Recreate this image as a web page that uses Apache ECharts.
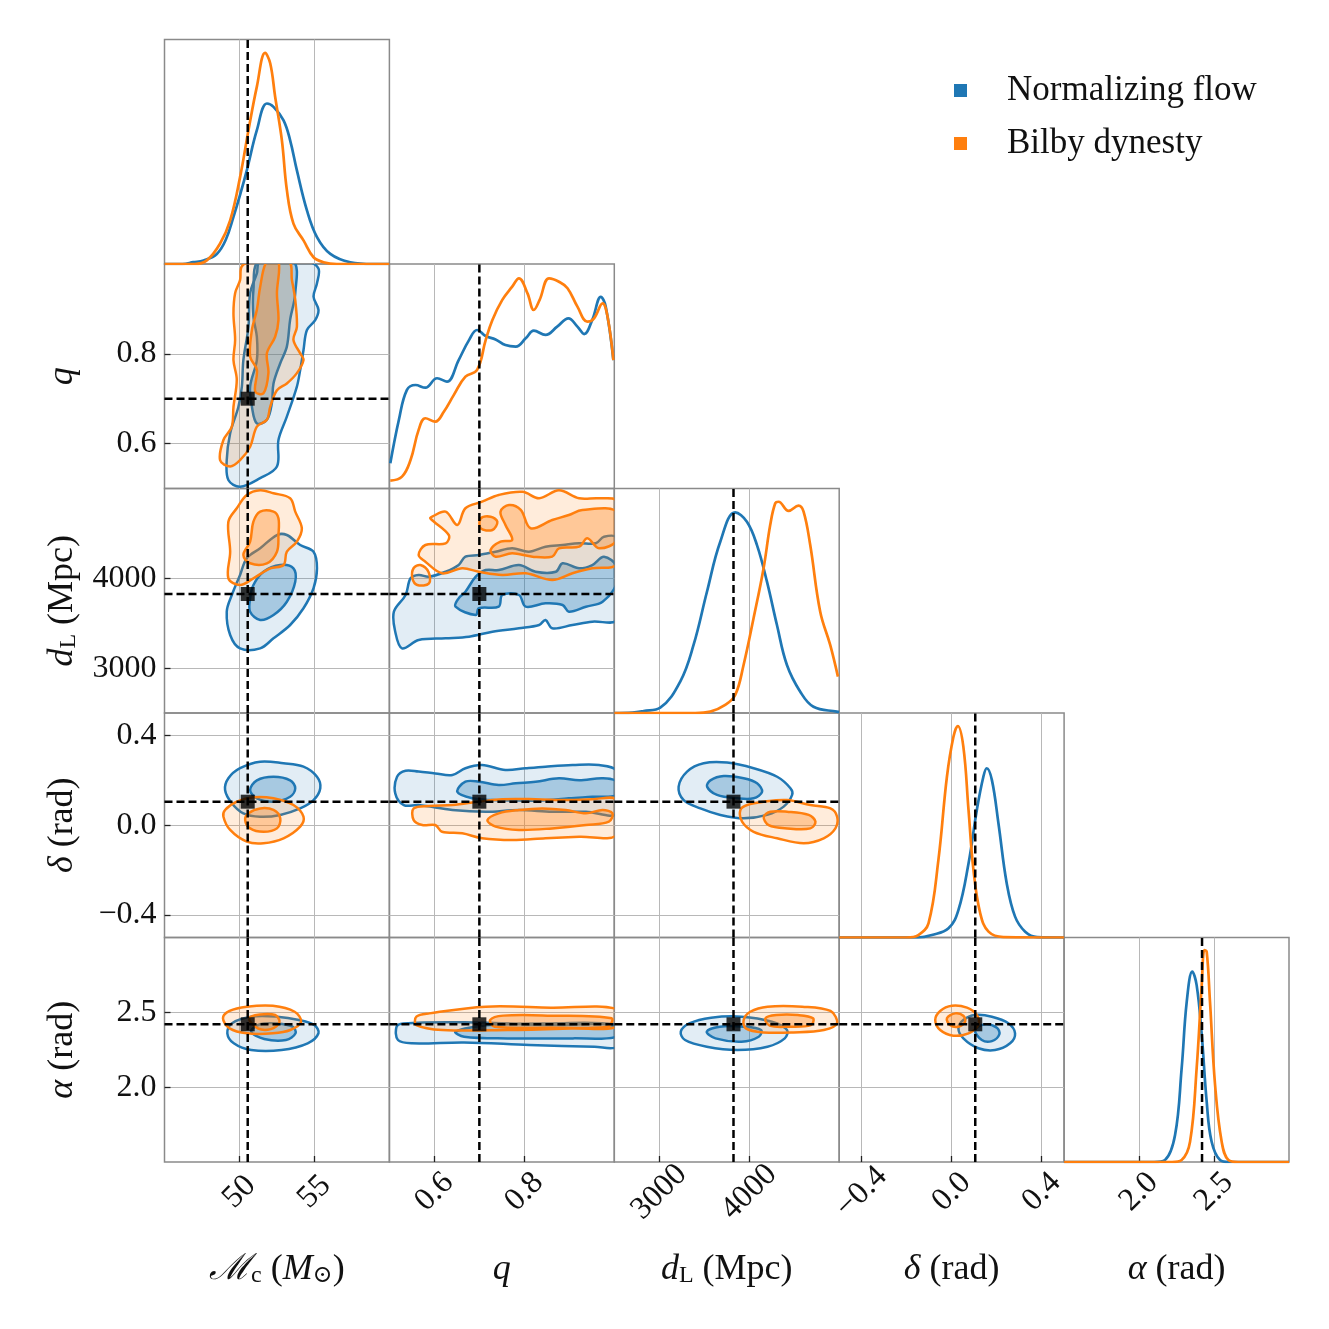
<!DOCTYPE html>
<html>
<head>
<meta charset="utf-8">
<script src="https://cdn.jsdelivr.net/npm/echarts@6/dist/echarts.min.js"></script>
<style>
  html, body { margin: 0; padding: 0; background: #fff; }
  #chart { width: 1329px; height: 1329px; }
</style>
</head>
<body>
<div id="chart"></div>
<script>
// ---- parameters ----
const paramNames = [
  '{it|ℳ}{sub|c} ({it|M}{sub|⊙})',
  '{it|q}',
  '{it|d}{sub|L} (Mpc)',
  '{it|δ} (rad)',
  '{it|α} (rad)'
];
const axisMin = [45, 0.5, 2500, -0.5, 1.5];
const axisMax = [60, 1.0, 5000, 0.5, 3.0];
const tickValues = [[50, 55], [0.6, 0.8], [3000, 4000], [-0.4, 0.0, 0.4], [2.0, 2.5]];
const truths = [50.55, 0.70, 3825, 0.105, 2.42];

// ---- 1D marginals (x, scaled density) ----
const mcFlow = [[45,0],[46.2,0],[46.92,0.008],[47.6,0.016],[48.49,0.045],[49.1,0.11],[49.6,0.21],[50.05,0.31],[50.49,0.417],[51.16,0.596],[51.83,0.715],[52.27,0.70],[52.94,0.64],[53.38,0.551],[53.83,0.417],[54.5,0.239],[55.17,0.12],[56.06,0.045],[57.39,0.008],[58.9,0],[60,0]];
const mcDyn = [[45,0],[47.0,0],[47.82,0.016],[48.7,0.09],[49.38,0.194],[50.04,0.387],[50.6,0.596],[51.16,0.79],[51.71,0.94],[52.05,0.894],[52.38,0.745],[52.83,0.55],[53.16,0.33],[53.6,0.18],[54.27,0.105],[54.94,0.03],[55.6,0.008],[56.5,0],[60,0]];
const qFlow = [[0.502,0.112],[0.521,0.305],[0.539,0.439],[0.558,0.461],[0.58,0.449],[0.606,0.491],[0.628,0.476],[0.654,0.572],[0.677,0.661],[0.695,0.706],[0.714,0.679],[0.736,0.664],[0.758,0.639],[0.781,0.632],[0.803,0.669],[0.821,0.703],[0.847,0.684],[0.873,0.721],[0.898,0.758],[0.918,0.721],[0.933,0.688],[0.951,0.751],[0.97,0.854],[0.981,0.81],[0.998,0.572]];
const qDyn = [[0.502,0.035],[0.528,0.053],[0.547,0.127],[0.565,0.261],[0.58,0.313],[0.602,0.298],[0.621,0.342],[0.643,0.416],[0.669,0.498],[0.695,0.528],[0.714,0.661],[0.729,0.751],[0.751,0.84],[0.773,0.899],[0.788,0.936],[0.807,0.869],[0.821,0.795],[0.834,0.84],[0.855,0.936],[0.877,0.921],[0.896,0.892],[0.918,0.81],[0.94,0.743],[0.955,0.758],[0.974,0.825],[0.985,0.765],[0.998,0.572]];
const dLFlow = [[2500,0],[2700,0.002],[2826,0.009],[3011,0.024],[3233,0.14],[3381,0.303],[3530,0.54],[3678,0.763],[3844,0.894],[3974,0.852],[4086,0.748],[4197,0.585],[4308,0.392],[4419,0.214],[4567,0.095],[4714,0.028],[4974,0.006],[5000,0.005]];
const dLDyn = [[2500,0],[3400,0],[3567,0.006],[3733,0.036],[3844,0.08],[3937,0.214],[4048,0.422],[4159,0.644],[4233,0.837],[4289,0.934],[4326,0.941],[4437,0.9],[4548,0.924],[4604,0.897],[4678,0.748],[4789,0.451],[4900,0.303],[4986,0.162]];
const deltaFlow = [[-0.5,0],[-0.15,0],[-0.088,0.011],[-0.014,0.041],[0.03,0.122],[0.075,0.33],[0.112,0.568],[0.141,0.716],[0.156,0.754],[0.179,0.701],[0.208,0.509],[0.245,0.241],[0.282,0.093],[0.327,0.026],[0.38,0.002],[0.5,0]];
const deltaDyn = [[-0.5,0],[-0.2,0],[-0.148,0.011],[-0.103,0.063],[-0.059,0.345],[-0.021,0.716],[0.008,0.894],[0.027,0.942],[0.052,0.85],[0.075,0.568],[0.097,0.301],[0.127,0.108],[0.164,0.026],[0.23,0.002],[0.5,0]];
const alphaFlow = [[1.5,0],[2.1,0],[2.173,0.009],[2.24,0.12],[2.284,0.417],[2.318,0.714],[2.355,0.848],[2.384,0.788],[2.418,0.566],[2.451,0.269],[2.484,0.09],[2.54,0.009],[2.6,0],[3.0,0]];
const alphaDyn = [[1.5,0],[2.22,0],[2.284,0.009],[2.34,0.09],[2.384,0.417],[2.418,0.788],[2.436,0.944],[2.451,0.937],[2.473,0.714],[2.507,0.343],[2.551,0.09],[2.596,0.009],[2.66,0],[3.0,0]];

// ---- 2D credible contours (95% and 68%) ----
const mcQFlow95 = [[50.04,0.504],[51.38,0.523],[52.5,0.549],[52.6,0.608],[53.16,0.66],[53.83,0.727],[54.05,0.764],[54.27,0.808],[54.5,0.853],[55.05,0.875],[55.27,0.898],[54.94,0.927],[55.17,0.957],[55.27,0.99],[54.5,1.006],[51.38,1.006],[51.16,0.979],[50.71,0.935],[50.6,0.86],[50.26,0.786],[50.16,0.727],[49.93,0.682],[49.38,0.623],[49.15,0.563],[49.26,0.519]];
const mcQFlow68 = [[51.27,1.006],[53.6,1.006],[53.72,0.935],[53.38,0.876],[53.16,0.816],[52.72,0.779],[52.27,0.734],[52.16,0.69],[51.83,0.653],[51.16,0.645],[50.83,0.682],[50.71,0.727],[51.16,0.786],[51.16,0.838],[50.93,0.883],[50.93,0.942]];
const mcQDyn95 = [[50.16,0.995],[50.93,1.006],[53.27,1.006],[53.5,0.964],[53.72,0.92],[53.83,0.86],[53.6,0.831],[54.05,0.801],[54.27,0.786],[53.83,0.757],[53.16,0.734],[52.5,0.719],[52.05,0.682],[51.83,0.653],[51.16,0.638],[50.71,0.593],[50.04,0.563],[49.38,0.549],[48.71,0.563],[48.93,0.608],[49.49,0.638],[49.6,0.682],[49.82,0.742],[49.6,0.786],[49.71,0.831],[49.6,0.89],[49.71,0.935],[50.04,0.964]];
const mcQDyn68 = [[51.83,1.006],[52.6,1.006],[52.5,0.935],[52.6,0.875],[52.38,0.838],[51.83,0.801],[51.93,0.757],[51.6,0.712],[51.05,0.716],[51.16,0.764],[50.71,0.794],[50.83,0.853],[51.16,0.898],[51.38,0.949]];

const mcDLFlow95 = [[49.15,3628],[49.38,3369],[50.04,3220],[51.38,3220],[52.27,3332],[53.38,3480],[54.27,3666],[54.94,3889],[55.17,4111],[54.94,4296],[54.05,4371],[53.16,4482],[52.5,4482],[51.38,4334],[50.49,4223],[50.04,4037],[49.49,3814]];
const mcDLFlow68 = [[50.71,3628],[51.38,3536],[52.27,3591],[53.16,3739],[53.72,3962],[53.6,4111],[52.72,4148],[51.6,4073],[50.93,3925],[50.71,3777]];
const mcDLDyn95 = [[49.26,4630],[49.38,4296],[49.26,4000],[50.04,3925],[50.93,4000],[52.05,4111],[52.94,4148],[53.16,4296],[53.83,4408],[54.16,4557],[53.72,4742],[53.38,4891],[52.27,4947],[51.38,4980],[50.49,4928],[49.82,4780]];
const mcDLDyn68 = [[50.26,4259],[50.71,4167],[51.83,4167],[52.5,4296],[52.6,4482],[52.6,4668],[52.27,4742],[51.38,4742],[50.93,4630],[50.71,4408]];

const qDLFlow95 = [[0.547,4000],[0.536,3814],[0.51,3628],[0.513,3405],[0.528,3220],[0.565,3313],[0.625,3332],[0.677,3350],[0.729,3405],[0.788,3443],[0.833,3480],[0.847,3536],[0.862,3443],[0.907,3480],[0.951,3517],[1.006,3536],[1.006,3962],[1.006,4445],[0.977,4463],[0.959,4390],[0.922,4390],[0.885,4371],[0.847,4352],[0.81,4296],[0.773,4334],[0.736,4296],[0.699,4259],[0.669,4241],[0.654,4148],[0.625,4073],[0.588,4018],[0.565,4037]];
const qDLFlow68 = [[0.647,3684],[0.692,3591],[0.699,3666],[0.743,3684],[0.751,3814],[0.788,3814],[0.803,3684],[0.847,3722],[0.885,3703],[0.899,3628],[0.937,3684],[0.974,3739],[1.006,3944],[1.006,4129],[0.977,4241],[0.951,4148],[0.922,4111],[0.885,4167],[0.87,4073],[0.825,4073],[0.788,4148],[0.743,4092],[0.714,4092],[0.692,4018],[0.669,3851],[0.654,3777]];
const qDLDyn95 = [[0.591,4668],[0.632,4482],[0.625,4390],[0.58,4371],[0.565,4259],[0.58,4185],[0.617,4056],[0.662,4111],[0.699,4073],[0.751,4037],[0.803,4056],[0.862,3981],[0.907,4056],[0.951,4111],[1.006,4167],[1.006,4853],[0.966,4891],[0.922,4891],[0.877,4980],[0.833,4891],[0.796,4964],[0.743,4928],[0.706,4853],[0.669,4780],[0.651,4594],[0.625,4742],[0.595,4686]];
const qDLDyn95b = [[0.554,4115],[0.551,4003],[0.562,3925],[0.588,3944],[0.587,4070],[0.569,4148]];
const qDLDyn68 = [[0.747,4742],[0.766,4816],[0.792,4761],[0.814,4557],[0.862,4649],[0.899,4705],[0.929,4761],[1.006,4742],[1.006,4427],[0.966,4334],[0.94,4445],[0.922,4352],[0.877,4334],[0.862,4241],[0.818,4241],[0.773,4278],[0.736,4241],[0.725,4315],[0.747,4408],[0.773,4427],[0.758,4594]];
const qDLDyn68b = [[0.703,4668],[0.703,4557],[0.729,4538],[0.74,4630],[0.725,4686]];

const mcDFlow95 = [[49.04,0.157],[49.49,0.098],[50.26,0.053],[51.38,0.038],[52.72,0.046],[54.05,0.075],[54.94,0.112],[55.39,0.165],[55.17,0.216],[54.27,0.261],[52.94,0.276],[51.38,0.283],[50.04,0.254],[49.26,0.209]];
const mcDFlow68 = [[50.71,0.157],[51.16,0.12],[52.27,0.105],[53.38,0.127],[53.72,0.165],[53.38,0.2],[52.27,0.216],[51.16,0.2]];
const mcDDyn95 = [[48.93,0.038],[49.38,-0.021],[50.49,-0.073],[51.6,-0.08],[52.94,-0.058],[54.05,-0.006],[54.27,0.038],[53.6,0.09],[52.27,0.12],[50.93,0.125],[49.82,0.105],[49.04,0.068]];
const mcDDyn68 = [[50.38,0.023],[50.71,-0.014],[51.6,-0.029],[52.5,-0.014],[52.72,0.031],[52.27,0.068],[51.38,0.075],[50.6,0.053]];

const qDFlow95 = [[0.517,0.216],[0.513,0.142],[0.532,0.09],[0.565,0.09],[0.64,0.068],[0.714,0.06],[0.788,0.068],[0.862,0.06],[0.937,0.06],[1.006,0.053],[1.006,0.239],[0.966,0.268],[0.907,0.268],[0.847,0.261],[0.803,0.254],[0.758,0.246],[0.706,0.268],[0.669,0.254],[0.64,0.224],[0.602,0.231],[0.565,0.239],[0.536,0.243]];
const qDFlow68 = [[0.651,0.149],[0.684,0.12],[0.729,0.112],[0.788,0.11],[0.84,0.11],[0.899,0.12],[0.951,0.127],[1.006,0.135],[1.006,0.194],[0.974,0.209],[0.922,0.2],[0.877,0.209],[0.825,0.194],[0.781,0.187],[0.743,0.179],[0.699,0.194],[0.669,0.194]];
const qDDyn95 = [[0.554,0.075],[0.554,0.023],[0.573,0.001],[0.602,0.001],[0.617,-0.029],[0.662,-0.036],[0.706,-0.058],[0.773,-0.066],[0.847,-0.058],[0.922,-0.051],[1.006,-0.043],[1.006,0.112],[0.951,0.116],[0.899,0.112],[0.825,0.116],[0.751,0.116],[0.699,0.105],[0.64,0.09],[0.588,0.086]];
const qDDyn68 = [[0.718,0.023],[0.736,-0.006],[0.788,-0.021],[0.862,-0.014],[0.937,0.001],[0.988,0.016],[0.996,0.053],[0.974,0.068],[0.937,0.053],[0.892,0.068],[0.84,0.075],[0.788,0.068],[0.743,0.053]];

const dLDFlow95 = [[3215,0.172],[3271,0.112],[3457,0.075],[3679,0.046],[3938,0.031],[4199,0.046],[4383,0.083],[4477,0.135],[4458,0.165],[4310,0.216],[4049,0.254],[3754,0.279],[3493,0.276],[3309,0.239]];
const dLDFlow68 = [[3531,0.172],[3642,0.135],[3865,0.12],[4049,0.12],[4143,0.149],[4087,0.187],[3938,0.209],[3716,0.219],[3568,0.2]];
const dLDDyn95 = [[3902,0.068],[3920,0.016],[4049,-0.029],[4310,-0.058],[4606,-0.08],[4828,-0.058],[4958,-0.014],[4977,0.038],[4903,0.075],[4680,0.09],[4421,0.112],[4161,0.105],[3976,0.09]];
const dLDDyn68 = [[4161,0.038],[4216,0.001],[4421,-0.014],[4680,-0.014],[4736,0.016],[4661,0.046],[4421,0.06],[4235,0.06]];

const mcAFlow95 = [[49.19,2.36],[49.62,2.293],[50.78,2.248],[52.81,2.248],[54.55,2.293],[55.27,2.36],[54.99,2.415],[53.97,2.449],[52.52,2.471],[50.78,2.471],[49.48,2.426]];
const mcAFlow68 = [[50.78,2.371],[51.65,2.322],[53.1,2.315],[53.74,2.36],[53.54,2.404],[52.52,2.426],[51.36,2.42]];
const mcADyn95 = [[48.9,2.46],[49.34,2.393],[50.49,2.36],[52.23,2.36],[53.39,2.382],[54.11,2.437],[53.68,2.504],[52.23,2.544],[50.49,2.538],[49.34,2.509]];
const mcADyn68 = [[50.64,2.46],[51.22,2.393],[52.09,2.388],[52.67,2.433],[52.38,2.482],[51.36,2.486]];

const qAFlow95 = [[0.516,2.404],[0.519,2.315],[0.55,2.293],[0.666,2.299],[0.811,2.282],[0.956,2.27],[1.006,2.27],[1.006,2.404],[0.859,2.415],[0.666,2.433],[0.531,2.426]];
const qAFlow68 = [[0.647,2.371],[0.666,2.337],[0.763,2.326],[0.908,2.326],[1.006,2.337],[1.006,2.415],[0.859,2.426],[0.724,2.415]];
const qADyn95 = [[0.56,2.471],[0.56,2.415],[0.618,2.382],[0.763,2.382],[0.908,2.393],[1.006,2.404],[1.006,2.522],[0.859,2.531],[0.714,2.538],[0.589,2.493]];
const qADyn68 = [[0.724,2.449],[0.734,2.404],[0.859,2.397],[0.985,2.404],[0.994,2.46],[0.859,2.478],[0.753,2.478]];

const dLAFlow95 = [[3239,2.371],[3286,2.315],[3528,2.27],[3866,2.248],[4203,2.27],[4395,2.326],[4420,2.382],[4251,2.437],[3914,2.471],[3576,2.464],[3334,2.426]];
const dLAFlow68 = [[3528,2.371],[3625,2.326],[3914,2.304],[4106,2.337],[4131,2.382],[3938,2.404],[3672,2.404]];
const dLADyn95 = [[3938,2.449],[3962,2.393],[4155,2.366],[4492,2.366],[4830,2.382],[4975,2.426],[4903,2.509],[4589,2.538],[4203,2.538],[4011,2.504]];
const dLADyn68 = [[4180,2.46],[4227,2.411],[4444,2.404],[4686,2.415],[4709,2.46],[4541,2.482],[4300,2.482]];

const dAFlow95 = [[0.030,2.393],[0.052,2.326],[0.119,2.26],[0.193,2.248],[0.26,2.293],[0.282,2.36],[0.252,2.427],[0.179,2.471],[0.104,2.482],[0.052,2.449]];
const dAFlow68 = [[0.104,2.382],[0.134,2.315],[0.179,2.308],[0.212,2.353],[0.201,2.397],[0.149,2.42]];
const dADyn95 = [[-0.073,2.449],[-0.051,2.382],[0.008,2.344],[0.075,2.36],[0.119,2.415],[0.112,2.482],[0.068,2.531],[0.001,2.544],[-0.051,2.509]];
const dADyn68 = [[-0.021,2.46],[-0.007,2.415],[0.030,2.404],[0.06,2.437],[0.052,2.477],[0.016,2.493]];

const diagFlow = [mcFlow, qFlow, dLFlow, deltaFlow, alphaFlow];
const diagDyn = [mcDyn, qDyn, dLDyn, deltaDyn, alphaDyn];

// each level is a list of polygons: [95%, 68%]
const contours = {
  '1-0': { flow: [[mcQFlow95], [mcQFlow68]], dyn: [[mcQDyn95], [mcQDyn68]] },
  '2-0': { flow: [[mcDLFlow95], [mcDLFlow68]], dyn: [[mcDLDyn95], [mcDLDyn68]] },
  '2-1': { flow: [[qDLFlow95], [qDLFlow68]], dyn: [[qDLDyn95, qDLDyn95b], [qDLDyn68, qDLDyn68b]] },
  '3-0': { flow: [[mcDFlow95], [mcDFlow68]], dyn: [[mcDDyn95], [mcDDyn68]] },
  '3-1': { flow: [[qDFlow95], [qDFlow68]], dyn: [[qDDyn95], [qDDyn68]] },
  '3-2': { flow: [[dLDFlow95], [dLDFlow68]], dyn: [[dLDDyn95], [dLDDyn68]] },
  '4-0': { flow: [[mcAFlow95], [mcAFlow68]], dyn: [[mcADyn95], [mcADyn68]] },
  '4-1': { flow: [[qAFlow95], [qAFlow68]], dyn: [[qADyn95], [qADyn68]] },
  '4-2': { flow: [[dLAFlow95], [dLAFlow68]], dyn: [[dLADyn95], [dLADyn68]] },
  '4-3': { flow: [[dAFlow95], [dAFlow68]], dyn: [[dADyn95], [dADyn68]] }
};

// ---- styling ----
const FONT = '"Liberation Serif", "DejaVu Serif", serif';
const FLOW = '#1f77b4';
const DYN = '#ff7f0e';
const FLOW_FILL = ['rgba(31,119,180,0.13)', 'rgba(31,119,180,0.30)'];
const DYN_FILL = ['rgba(255,127,14,0.15)', 'rgba(255,127,14,0.33)'];
const NAME_FLOW = 'Normalizing flow';
const NAME_DYN = 'Bilby dynesty';

const richName = {
  it: { fontFamily: FONT, fontStyle: 'italic', fontSize: 36, color: '#111' },
  sub: { fontFamily: FONT, fontSize: 24, color: '#111', verticalAlign: 'bottom' }
};

const fmtTick = (c) => (v) => {
  const s = (c === 0 || c === 2) ? String(Math.round(v)) : Number(v).toFixed(1);
  return s.replace('-', '\u2212');
};

const left0 = 164.5, top0 = 39.5, cellW = 224.9, cellH = 224.5;

const grids = [], xAxes = [], yAxes = [], series = [];

function contourSeries(name, color, fills, levels, g) {
  const polys = [];
  levels.forEach((list, li) => list.forEach(p => polys.push({ p, li })));
  return {
    name, type: 'custom', xAxisIndex: g, yAxisIndex: g, z: 2, silent: true,
    itemStyle: { color },
    data: polys.map(o => o.p[0]),
    renderItem: (params, api) => {
      const o = polys[params.dataIndex];
      const cs = params.coordSys;
      return {
        type: 'group',
        clipPath: { type: 'rect', shape: { x: cs.x, y: cs.y, width: cs.width, height: cs.height } },
        children: [{
          type: 'polygon',
          shape: { points: o.p.map(pt => api.coord(pt)), smooth: 0.35 },
          style: { fill: fills[o.li], stroke: color, lineWidth: 2.5 }
        }]
      };
    }
  };
}

function truthLine(g, pts) {
  return {
    name: 'truth', type: 'line', xAxisIndex: g, yAxisIndex: g, data: pts,
    symbol: 'none', silent: true, z: 4, animation: false,
    lineStyle: { color: '#000', width: 2.5, type: [8, 4] }
  };
}

let g = 0;
for (let r = 0; r < 5; r++) {
  for (let c = 0; c <= r; c++) {
    grids.push({
      left: left0 + c * cellW, top: top0 + r * cellH, width: cellW, height: cellH,
      show: true, borderColor: '#8a8a8a', borderWidth: 1.5, containLabel: false
    });
    const bottom = r === 4;
    xAxes.push({
      gridIndex: g, type: 'value', min: axisMin[c], max: axisMax[c],
      axisLine: { show: false },
      axisTick: { show: bottom, inside: true, length: 6, customValues: tickValues[c], lineStyle: { color: '#222', width: 1.3 } },
      axisLabel: {
        show: bottom, customValues: tickValues[c], formatter: fmtTick(c), rotate: 45,
        align: 'center', verticalAlign: 'middle', margin: 30,
        fontFamily: FONT, fontSize: 32, color: '#111'
      },
      splitLine: { show: true, lineStyle: { color: '#b8b8b8', width: 1 } },
      name: bottom ? paramNames[c] : '', nameLocation: 'middle', nameGap: 108,
      nameTextStyle: { fontFamily: FONT, fontSize: 36, color: '#111', verticalAlign: 'middle', rich: richName }
    });
    if (r === c) {
      yAxes.push({
        gridIndex: g, type: 'value', min: 0, max: 1,
        axisLine: { show: false }, axisTick: { show: false }, axisLabel: { show: false },
        splitLine: { show: false }
      });
    } else {
      const leftCol = c === 0;
      yAxes.push({
        gridIndex: g, type: 'value', min: axisMin[r], max: axisMax[r],
        axisLine: { show: false },
        axisTick: { show: leftCol, inside: true, length: 6, customValues: tickValues[r], lineStyle: { color: '#222', width: 1.3 } },
        axisLabel: {
          show: leftCol, customValues: tickValues[r], formatter: fmtTick(r), margin: 8,
          fontFamily: FONT, fontSize: 32, color: '#111'
        },
        splitLine: { show: true, lineStyle: { color: '#b8b8b8', width: 1 } },
        name: leftCol ? paramNames[r] : '', nameLocation: 'middle', nameGap: 102, nameRotate: 90,
        nameTextStyle: { fontFamily: FONT, fontSize: 36, color: '#111', verticalAlign: 'middle', rich: richName }
      });
    }

    if (r === c) {
      [[NAME_FLOW, FLOW, diagFlow[c]], [NAME_DYN, DYN, diagDyn[c]]].forEach(([name, color, data]) => {
        series.push({
          name, type: 'line', xAxisIndex: g, yAxisIndex: g, data, z: 3,
          symbol: 'none', smooth: 0.4, silent: true,
          itemStyle: { color }, lineStyle: { color, width: 2.7 }
        });
      });
      series.push(truthLine(g, [[truths[c], 0], [truths[c], 1]]));
    } else {
      const k = contours[r + '-' + c];
      series.push(contourSeries(NAME_FLOW, FLOW, FLOW_FILL, k.flow, g));
      series.push(contourSeries(NAME_DYN, DYN, DYN_FILL, k.dyn, g));
      series.push(truthLine(g, [[truths[c], axisMin[r]], [truths[c], axisMax[r]]]));
      series.push(truthLine(g, [[axisMin[c], truths[r]], [axisMax[c], truths[r]]]));
      series.push({
        name: 'truth', type: 'scatter', xAxisIndex: g, yAxisIndex: g, z: 5, silent: true,
        data: [[truths[c], truths[r]]], symbol: 'rect', symbolSize: 14,
        itemStyle: { color: '#000' }
      });
    }
    g++;
  }
}

const chart = echarts.init(document.getElementById('chart'), null, { renderer: 'canvas' });
chart.setOption({
  backgroundColor: '#fff',
  animation: false,
  legend: {
    left: 949, top: 68, orient: 'vertical', itemWidth: 13, itemHeight: 13, itemGap: 18,
    selectedMode: false,
    data: [
      { name: NAME_FLOW, icon: 'rect', itemStyle: { color: FLOW } },
      { name: NAME_DYN, icon: 'rect', itemStyle: { color: DYN } }
    ],
    textStyle: { fontFamily: FONT, fontSize: 35, color: '#111', padding: [0, 0, 0, 35] }
  },
  grid: grids,
  xAxis: xAxes,
  yAxis: yAxes,
  series
});
</script>
</body>
</html>
